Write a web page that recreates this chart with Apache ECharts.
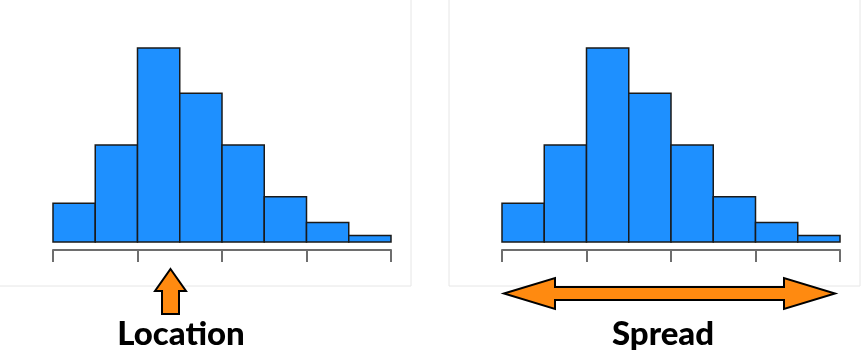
<!DOCTYPE html>
<html><head><meta charset="utf-8">
<script src="https://cdn.jsdelivr.net/npm/echarts@6/dist/echarts.min.js"></script>
<style>html,body{margin:0;padding:0;background:#fff}#c{width:862px;height:360px}</style>
</head><body><div id="c"></div>
<script>
// Histogram bin counts (same for both panels)
const binStarts = [0, 1, 2, 3, 4, 5, 6, 7];
const countsLeft = [6, 15, 30, 23, 15, 7, 3, 1];
const countsRight = [6, 15, 30, 23, 15, 7, 3, 1];
const tickValues = [0, 2, 4, 6, 8];
const panelLabels = ['Location', 'Spread'];

const chart = echarts.init(document.getElementById('c'), null, {renderer: 'canvas'});

function histSeries(idx, counts) {
  return {
    type: 'custom',
    xAxisIndex: idx * 2,
    yAxisIndex: idx,
    data: binStarts.map((b, i) => [b, b + 1, counts[i]]),
    renderItem: function (params, api) {
      const p0 = api.coord([api.value(0), api.value(2)]);
      const p1 = api.coord([api.value(1), 0]);
      return {
        type: 'rect',
        shape: {x: p0[0], y: p0[1], width: p1[0] - p0[0], height: p1[1] - p0[1]},
        style: {fill: '#1E90FF', stroke: '#1a1a1a', lineWidth: 1.5}
      };
    },
    silent: true
  };
}

const grids = [
  {left: 53, top: 48, width: 338, bottom: 118},
  {left: 502, top: 48, width: 338, bottom: 118}
];

const xAxes = [];
const yAxes = [];
[0, 1].forEach(i => {
  xAxes.push({
    gridIndex: i, type: 'value', position: 'bottom', min: 0, max: 8, show: false
  });
  xAxes.push({
    gridIndex: i, type: 'value', position: 'bottom', min: 0, max: 8, interval: 2, offset: 8,
    axisLine: {show: true, lineStyle: {color: '#6e6e6e', width: 2}},
    axisTick: {show: true, inside: false, length: 12, lineStyle: {color: '#6e6e6e', width: 2}},
    axisLabel: {show: false},
    splitLine: {show: false}
  });
  yAxes.push({gridIndex: i, type: 'value', min: 0, max: 30, show: false, splitLine: {show: false}});
});

const orange = '#FF8A10';

chart.setOption({
  animation: false,
  grid: grids,
  xAxis: xAxes,
  yAxis: yAxes,
  series: [histSeries(0, countsLeft), histSeries(1, countsRight)],
  graphic: [
    {type: 'rect', z: -10, shape: {x: -2, y: -2, width: 413, height: 288},
      style: {fill: '#fff', stroke: '#e6e6e6', lineWidth: 1}},
    {type: 'rect', z: -10, shape: {x: 449, y: -2, width: 411, height: 288},
      style: {fill: '#fff', stroke: '#e6e6e6', lineWidth: 1}},
    // up arrow (Location)
    {type: 'polygon', z: 10, shape: {points: [
      [170.5, 269], [186, 291], [179, 291], [179, 314], [162, 314], [162, 291], [155, 291]
    ]}, style: {fill: orange, stroke: '#000', lineWidth: 2, lineJoin: 'miter'}},
    // double arrow (Spread)
    {type: 'polygon', z: 10, shape: {points: [
      [504, 293.5], [555, 278], [555, 287], [784, 287], [784, 278], [835, 293.5],
      [784, 309], [784, 300], [555, 300], [555, 309]
    ]}, style: {fill: orange, stroke: '#000', lineWidth: 2, lineJoin: 'miter'}},
    {type: 'text', z: 10, x: 181, y: 334, style: {
      text: panelLabels[0], font: '900 33px Lato', fill: '#000',
      textAlign: 'center', textVerticalAlign: 'middle'}},
    {type: 'text', z: 10, x: 663, y: 334, style: {
      text: panelLabels[1], font: '900 33px Lato', fill: '#000',
      textAlign: 'center', textVerticalAlign: 'middle'}}
  ]
});
</script>
</body></html>
